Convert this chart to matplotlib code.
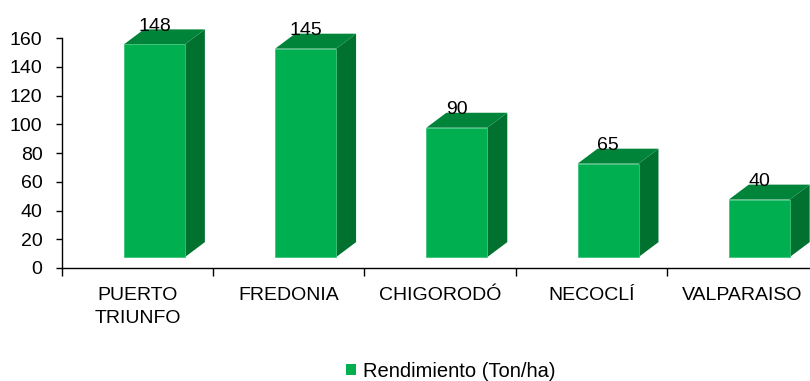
import matplotlib.pyplot as plt
from matplotlib.patches import Polygon, Patch

plt.rcParams["font.family"] = ["Liberation Sans", "DejaVu Sans"]

municipios = ["PUERTO\nTRIUNFO", "FREDONIA", "CHIGORODÓ", "NECOCLÍ", "VALPARAISO"]
rendimiento = [148, 145, 90, 65, 40]
y_ticks = [0, 20, 40, 60, 80, 100, 120, 140, 160]

FRONT = "#00b050"
SIDE = "#00712f"
TOP = "#00843a"
FS = 14

# fake 3D column: front face raised off the floor, depth pushed up-right
LIFT = 7.6
DEPTH_X = 0.132
DEPTH_Y = 10.4
BAR_W = 0.403
BAR_SHIFT = -0.09

fig = plt.figure(figsize=(8.1, 3.81), dpi=100)
ax = fig.add_axes([62 / 810, 1 - 268 / 381, 756 / 810, 230 / 381])

for i, v in enumerate(rendimiento):
    x0 = i + 0.5 + BAR_SHIFT
    x1 = x0 + BAR_W
    b = LIFT
    ax.bar(x0, v, width=BAR_W, bottom=b, align="edge", color=FRONT,
           edgecolor="#3cc47a", linewidth=0.6, clip_on=False, zorder=3)
    side = [(x1, b), (x1 + DEPTH_X, b + DEPTH_Y),
            (x1 + DEPTH_X, b + v + DEPTH_Y), (x1, b + v)]
    top = [(x0, b + v), (x0 + DEPTH_X, b + v + DEPTH_Y),
           (x1 + DEPTH_X, b + v + DEPTH_Y), (x1, b + v)]
    ax.add_patch(Polygon(side, closed=True, facecolor=SIDE, edgecolor="none",
                         clip_on=False, zorder=2))
    ax.add_patch(Polygon(top, closed=True, facecolor=TOP, edgecolor="none",
                         clip_on=False, zorder=2))
    ax.text((x0 + x1) / 2, b + v + DEPTH_Y - 0.8, str(v), ha="center",
            va="baseline", fontsize=FS, color="black", clip_on=False, zorder=4)

ax.set_xlim(0, 5)
ax.set_ylim(0, 160)
ax.set_yticks(y_ticks)
ax.tick_params(axis="y", labelsize=FS, length=4, width=1, pad=10)

# boundary ticks on the category axis, labels centred between them
ax.set_xticks([0, 1, 2, 3, 4, 5])
ax.set_xticklabels([])
ax.tick_params(axis="x", which="major", length=6, width=1, direction="out")
ax.set_xticks([i + 0.5 for i in range(5)], minor=True)
ax.set_xticklabels(municipios, minor=True, fontsize=FS, linespacing=1.4)
ax.tick_params(axis="x", which="minor", length=0, pad=14)

for side_name in ["top", "right"]:
    ax.spines[side_name].set_visible(False)
ax.spines["left"].set_linewidth(1)
ax.spines["bottom"].set_linewidth(1)

fig.legend(handles=[Patch(facecolor=FRONT, edgecolor="none",
                          label="Rendimiento (Ton/ha)")],
           loc="center", bbox_to_anchor=(0.557, 0.026), frameon=False,
           fontsize=14.5, handlelength=0.5, handleheight=0.5,
           handletextpad=0.35, borderpad=0)

fig.savefig("out.png", dpi=100)
